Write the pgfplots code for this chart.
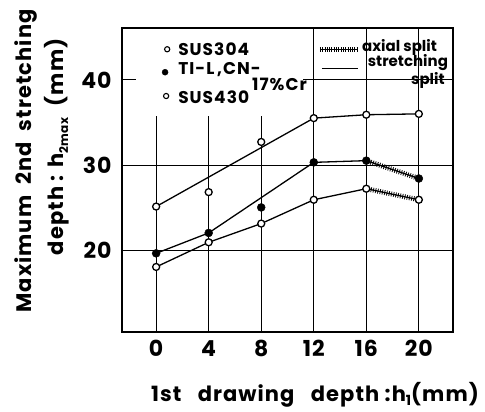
\documentclass[border=0pt]{standalone}
\usepackage{fontspec}
\setmainfont{Poppins}
\usepackage{pgfplots}
\pgfplotsset{compat=1.18}
\begin{document}
\begin{tikzpicture}[x=1pt,y=1pt]
\useasboundingbox (-122,-80) rectangle (363,332);
\begin{axis}[
  at={(0,0)}, anchor=south west, scale only axis,
  width=331pt, height=304pt,
  xmin=-2.6, xmax=22.6, ymin=10.35, ymax=46.1,
  axis line style={line width=1.8pt},
  xtick={0,4,8,12,16,20}, ytick={20,30,40},
  major tick length=0pt,
  /pgf/number format/assume math mode=true,
  ticklabel style={font=\fontsize{22}{22}\selectfont\bfseries\addfontfeatures{LetterSpace=4}},
  xticklabel style={yshift=-5pt},
  yticklabel style={xshift=-7pt},
  clip=false,
]
% grid lines
\addplot[black, line width=0.8pt] coordinates {(0,10.35) (0,35.7)};
\addplot[black, line width=0.8pt] coordinates {(4,10.35) (4,35.7)};
\addplot[black, line width=0.8pt] coordinates {(8,10.35) (8,35.7)};
\addplot[black, line width=0.8pt] coordinates {(12,10.35) (12,46.1)};
\addplot[black, line width=0.8pt] coordinates {(16,10.35) (16,46.1)};
\addplot[black, line width=0.8pt] coordinates {(20,10.35) (20,46.1)};
\addplot[black, line width=0.8pt] coordinates {(-2.6,20) (22.6,20)};
\addplot[black, line width=0.8pt] coordinates {(-2.6,30) (22.6,30)};
\addplot[black, line width=0.8pt] coordinates {(-2.6,40) (-1.5,40)};
\addplot[black, line width=0.8pt] coordinates {(11.2,40) (22.6,40)};
% stretching split lines
\addplot[black, line width=1.3pt] coordinates {(0,25.1) (12,35.5) (16,35.9) (20,36.0)};
\addplot[black, line width=1.3pt] coordinates {(0,19.6) (4,22.0) (12,30.3) (16,30.5)};
\addplot[black, line width=1.3pt] coordinates {(0,18.0) (4,20.9) (8,23.1) (12,25.9) (16,27.2)};
% axial split lines
\addplot[black, line width=1.3pt, postaction={draw, line width=5pt, dash pattern=on 0.8pt off 1.5pt}] coordinates {(16,30.5) (20,28.4)};
\addplot[black, line width=1.3pt, postaction={draw, line width=5pt, dash pattern=on 0.8pt off 1.5pt}] coordinates {(16,27.2) (20,25.9)};
% markers
\addplot[only marks, mark=*, mark size=3.5pt, mark options={fill=white, draw=black, line width=1.3pt}] coordinates {(0,25.1) (4,26.8) (8,32.7) (12,35.5) (16,35.9) (20,36.0)};
\addplot[only marks, mark=*, mark size=4pt, mark options={fill=black, draw=black}] coordinates {(0,19.6) (4,22.0) (8,25.0) (12,30.3) (16,30.5) (20,28.4)};
\addplot[only marks, mark=*, mark size=3.5pt, mark options={fill=white, draw=black, line width=1.3pt}] coordinates {(0,18.0) (4,20.9) (8,23.1) (12,25.9) (16,27.2) (20,25.9)};
% legend markers
\addplot[only marks, mark=*, mark size=2.6pt, mark options={fill=white, draw=black, line width=1.1pt}] coordinates {(0.84,43.6) (0.76,38.1)};
\addplot[only marks, mark=*, mark size=3pt, mark options={fill=black}] coordinates {(0.68,40.9)};
\addplot[black, line width=1.3pt, postaction={draw, line width=5pt, dash pattern=on 0.8pt off 1.5pt}] coordinates {(12.47,43.6) (15.36,43.6)};
\addplot[black, line width=1.3pt] coordinates {(12.62,41.3) (15.36,41.3)};
% legend text
\begin{scope}[every node/.style={font=\fontsize{17}{17}\selectfont\bfseries\addfontfeatures{LetterSpace=6}, inner sep=0pt}]
\node[anchor=west] at (axis cs:1.67,43.6) {SUS304};
\node[anchor=west] at (axis cs:1.67,41.2) {TI-L\,,CN-};
\node[anchor=west] at (axis cs:7.3,39.5) {17\%Cr};
\node[anchor=west] at (axis cs:1.67,38.0) {SUS430};
\end{scope}
\begin{scope}[every node/.style={font=\fontsize{15}{15}\selectfont\bfseries, inner sep=0pt}]
\node[anchor=west] at (axis cs:15.67,43.8) {axial split};
\node[anchor=west] at (axis cs:16.1,42.0) {stretching};
\node[anchor=east] at (axis cs:21.98,39.9) {split};
\end{scope}
% axis labels
\node[rotate=90, font=\fontsize{21}{21}\selectfont\bfseries\addfontfeatures{LetterSpace=5}] at (rel axis cs:-0.29,0.5625) {Maximum\ \ 2nd\ \ stretching};
\node[rotate=90, font=\fontsize{21}{21}\selectfont\bfseries\addfontfeatures{LetterSpace=5}] at (rel axis cs:-0.196,0.609) {depth : h\raisebox{-0.35ex}{\fontsize{12}{12}\selectfont 2max}\ \ (mm)};
\node[font=\fontsize{21}{21}\selectfont\bfseries\addfontfeatures{LetterSpace=5}] at (rel axis cs:0.583,-0.207) {1st\ \ \ drawing\ \ \ depth :h\raisebox{-0.3ex}{\fontsize{14}{14}\selectfont 1}(mm)};
\end{axis}
\end{tikzpicture}
\end{document}
